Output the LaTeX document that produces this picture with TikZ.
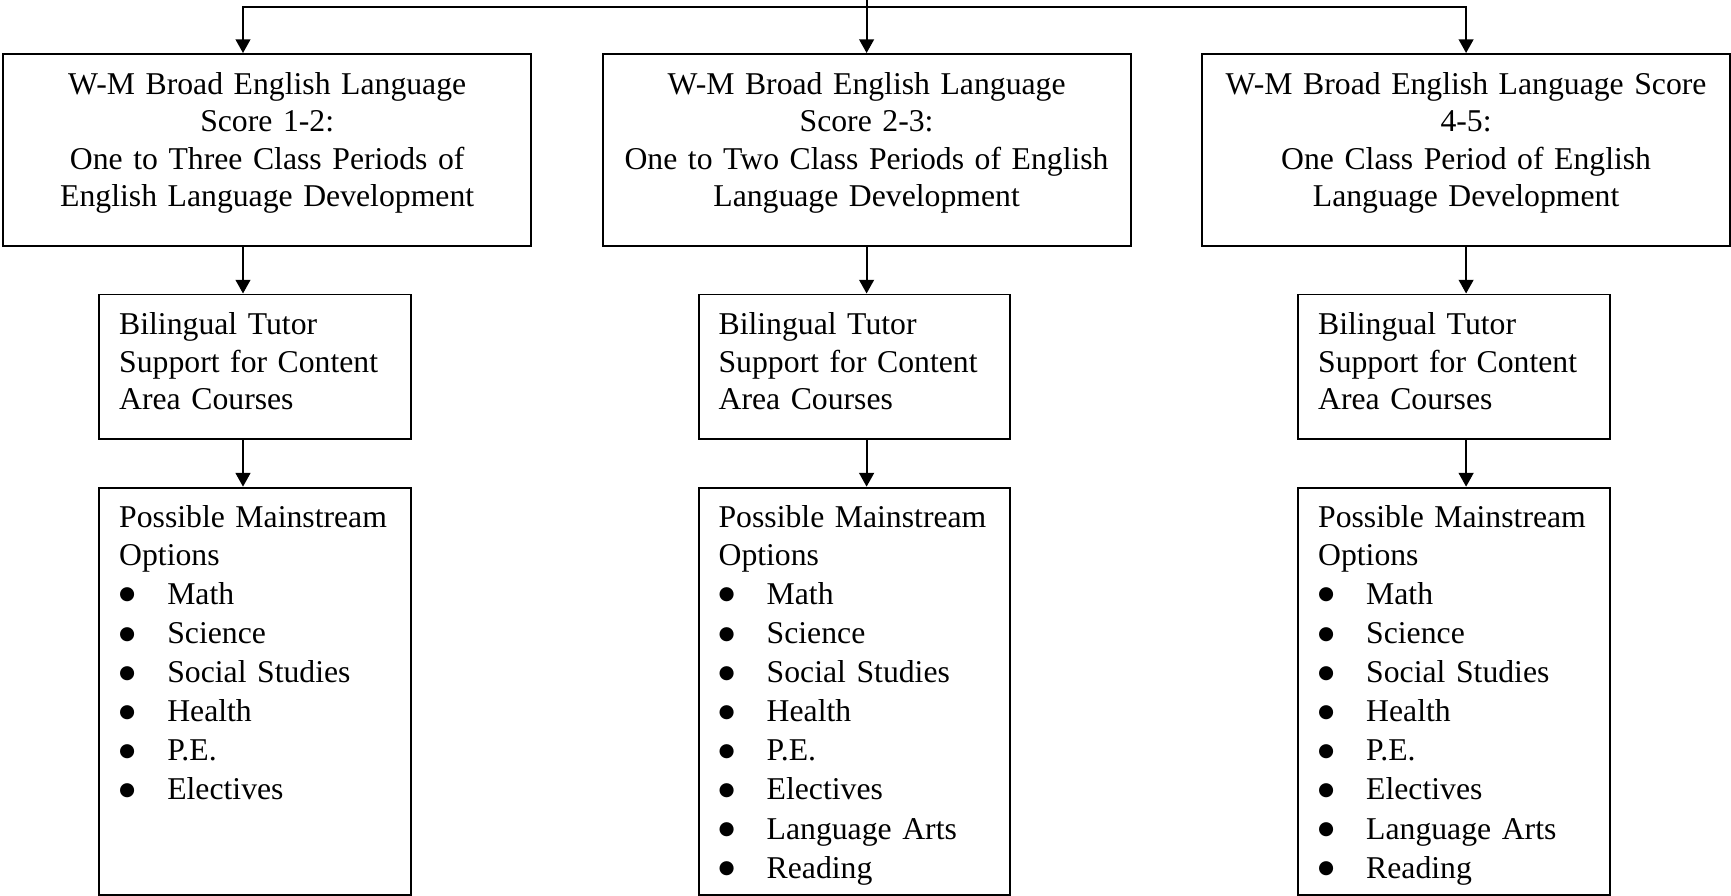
\documentclass[tikz,border=0pt]{standalone}
\usepackage{fontspec}
\setmainfont{Liberation Serif}
\newfontfamily\bulletfont{DejaVu Sans}
\usetikzlibrary{arrows.meta,positioning}

\newcommand{\optitem}[1]{\makebox[18.2pt][l]{\raisebox{1.7pt}{\bulletfont\fontsize{7}{7}\selectfont ●}}#1}

\begin{document}
\begin{tikzpicture}[x=0.3784pt, y=-0.3784pt, >={Triangle[length=5.2pt,width=5.6pt]}, line width=0.7pt, node distance=17.7pt,
    every node/.style={font=\fontsize{12}{14.2}\selectfont, inner ysep=0pt},
    scorebox/.style={draw, align=center, inner xsep=0pt, text width=199.8pt, text height=15.2pt, text depth=57.4pt},
    tutorbox/.style={draw, align=left, inner xsep=7.5pt, text width=102.8pt, text height=15.2pt, text depth=39.5pt},
    optionbox/.style={draw, align=left, inner xsep=7.5pt, text width=102.8pt, text height=15.2pt, text depth=138.8pt}]
    \useasboundingbox (0,0) rectangle (1731,895);

    % Score boxes {score12, score23, score45}
    \node [scorebox, anchor=north]	(score12)	at (267.2,53)	{W-M Broad English Language\\Score 1-2:\\One to Three Class Periods of\\English Language Development};
    \node [scorebox, anchor=north]	(score23)	at (866.6,53)	{W-M Broad English Language\\Score 2-3:\\One to Two Class Periods of English\\Language Development};
    \node [scorebox, anchor=north]	(score45)	at (1466.1,53)	{W-M Broad English Language Score\\4-5:\\One Class Period of English\\Language Development};

    % Tutor boxes
    \node [tutorbox]	(tutor12)	[below=of score12, xshift=-4.6pt]	{Bilingual Tutor\\Support for Content\\Area Courses};
    \node [tutorbox]	(tutor23)	[below=of score23, xshift=-4.6pt]	{Bilingual Tutor\\Support for Content\\Area Courses};
    \node [tutorbox]	(tutor45)	[below=of score45, xshift=-4.6pt]	{Bilingual Tutor\\Support for Content\\Area Courses};

    % Option boxes
    \node [optionbox]	(options12)	[below=of tutor12]	{Possible Mainstream\\Options\\[0.6pt]\optitem{Math}\\[0.6pt]\optitem{Science}\\[0.6pt]\optitem{Social Studies}\\[0.6pt]\optitem{Health}\\[0.6pt]\optitem{P.E.}\\[0.6pt]\optitem{Electives}};
    \node [optionbox]	(options23)	[below=of tutor23]	{Possible Mainstream\\Options\\[0.6pt]\optitem{Math}\\[0.6pt]\optitem{Science}\\[0.6pt]\optitem{Social Studies}\\[0.6pt]\optitem{Health}\\[0.6pt]\optitem{P.E.}\\[0.6pt]\optitem{Electives}\\[0.6pt]\optitem{Language Arts}\\[0.6pt]\optitem{Reading}};
    \node [optionbox]	(options45)	[below=of tutor45]	{Possible Mainstream\\Options\\[0.6pt]\optitem{Math}\\[0.6pt]\optitem{Science}\\[0.6pt]\optitem{Social Studies}\\[0.6pt]\optitem{Health}\\[0.6pt]\optitem{P.E.}\\[0.6pt]\optitem{Electives}\\[0.6pt]\optitem{Language Arts}\\[0.6pt]\optitem{Reading}};

    % Split points
    \coordinate (entry)		at (866.6,0);
    \coordinate (split1)	at (243,6.6);
    \coordinate (split2)	at (866.6,6.6);

    % Paths
    \draw [->]	(entry) -- (score23.north);
    \draw [->]	(split2) -| (score12.north -| split1);
    \draw [->]	(split2) -| (score45.north);
    \path [->]	(score12.south -| split1)	edge	(tutor12.north -| split1);
    \path [->]	(tutor12.south -| split1)	edge	(options12.north -| split1);
    \path [->]	(score23.south)	edge	(tutor23.north -| score23);
    \path [->]	(tutor23.south -| score23)	edge	(options23.north -| score23);
    \path [->]	(score45.south)	edge	(tutor45.north -| score45);
    \path [->]	(tutor45.south -| score45)	edge	(options45.north -| score45);

\end{tikzpicture}
\end{document}
